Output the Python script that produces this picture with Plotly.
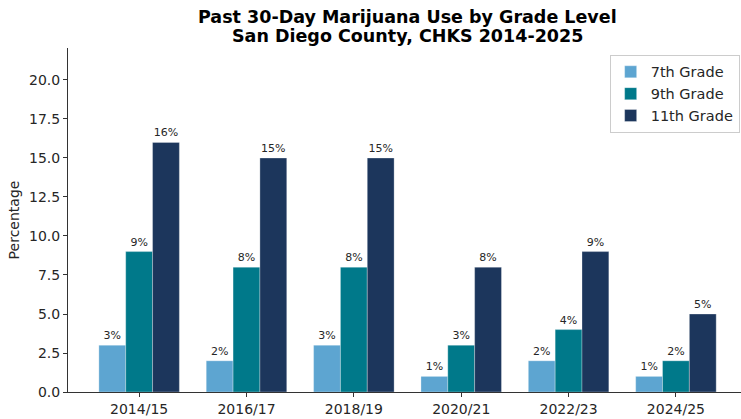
import plotly.graph_objects as go

years = ["2014/15", "2016/17", "2018/19", "2020/21", "2022/23", "2024/25"]
grade7 = [3, 2, 3, 1, 2, 1]
grade9 = [9, 8, 8, 3, 4, 2]
grade11 = [16, 15, 15, 8, 9, 5]
series_names = ["7th Grade", "9th Grade", "11th Grade"]
colors = ["#5DA5D1", "#00798A", "#1C365C"]
title_lines = ["Past 30-Day Marijuana Use by Grade Level", "San Diego County, CHKS 2014-2025"]

fig = go.Figure()
for name, vals, col in zip(series_names, [grade7, grade9, grade11], colors):
    fig.add_trace(go.Bar(
        x=years, y=vals, name=name, marker_color=col,
        marker_line=dict(color="rgba(255,255,255,0.5)", width=0.6),
        text=[f"{v}%" for v in vals], textposition="outside",
        textfont=dict(size=11, color="#262626"), cliponaxis=False,
    ))

H, T, B = 419, 48, 27
ph = H - T - B
for line, ypx in zip(title_lines, [17, 36]):
    fig.add_annotation(text=f"<b>{line}</b>", xref="paper", yref="paper",
                       x=(407 - 68) / (741 - 68), y=1 + (T - ypx) / ph,
                       xanchor="center", yanchor="middle", showarrow=False,
                       font=dict(size=17.5, color="black", family="DejaVu Sans"))

fig.update_layout(
    width=741, height=H,
    margin=dict(l=68, r=0, t=T, b=B),
    paper_bgcolor="white", plot_bgcolor="white",
    font=dict(family="DejaVu Sans", color="#262626", size=14),
    barmode="group", bargap=0.25, bargroupgap=0,
    legend=dict(x=0.998, xanchor="right", y=0.98, yanchor="top", bordercolor="#CCCCCC", borderwidth=1,
                bgcolor="white", font=dict(size=14.5), tracegroupgap=2),
    showlegend=True,
)
fig.update_xaxes(range=[-0.6625, 5.606], showline=True, linecolor="#333333", linewidth=1,
                 ticks="outside", ticklen=4, tickcolor="#333333", showgrid=False, tickfont=dict(size=14))
fig.update_yaxes(range=[0, 22.05], dtick=2.5, tickformat=".1f", showline=True, linecolor="#333333",
                 linewidth=1, ticks="outside", ticklen=4, tickcolor="#333333", showgrid=False, zeroline=False,
                 title=dict(text="Percentage", font=dict(size=14), standoff=6), tickfont=dict(size=14))

fig.write_html("out.html", config={"displayModeBar": False},
               post_script="document.body.style.margin='0';")
